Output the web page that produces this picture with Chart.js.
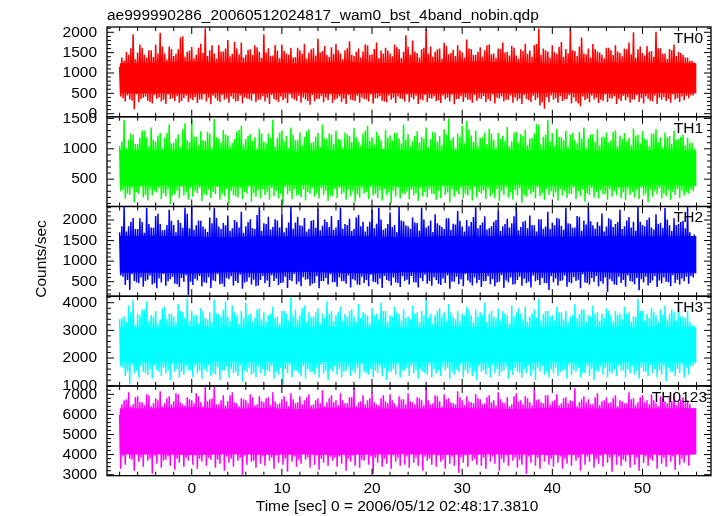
<!DOCTYPE html>
<html><head><meta charset="utf-8">
<script src="https://cdn.jsdelivr.net/npm/chart.js@4.4.0/dist/chart.umd.min.js"></script>
<style>html,body{margin:0;padding:0;background:#fff;}#wrap{width:717px;height:516px;position:relative;}</style>
</head><body><div id="wrap"><canvas id="c" width="717" height="516"></canvas></div>
<script>
const chartTitle = "ae999990286_20060512024817_wam0_bst_4band_nobin.qdp";
const xTitle = "Time [sec] 0 = 2006/05/12 02:48:17.3810";
const yTitle = "Counts/sec";
const bandNames = ["TH0", "TH1", "TH2", "TH3", "TH0123"];
const tStart = -8;      // start time of first bin (s)
const binWidth = 0.5;   // bin width (s); each bin holds two peak/trough readings (A then B)
const coreStep = 4;     // spacing of the dense-band readings (s)

// per-bin upper / lower excursions (counts/sec), first half of each bin
const th0Hi = [1150,1300,1450,1950,1500,1620,1380,1560,1700,1990,1480,1650,1420,1580,1900,1520,
 1640,1450,1720,2100,1560,1480,1690,1530,1810,1470,1600,1750,1450,1580,1680,1520,
 1950,1610,1430,1550,1700,1480,1620,1390,1560,1720,1500,1610,1850,1540,1450,1630,
 1710,1480,1560,1780,1420,1600,1530,1680,1460,1750,1550,1620,1480,1700,1590,1520,
 1640,1800,1490,1580,2080,1650,1520,1600,1740,1460,1570,1680,1510,1820,1590,1450,
 1630,1560,1700,1480,1600,1750,1520,1660,1430,1580,1720,1550,1690,2090,1600,1530,
 1680,1470,1760,1590,2100,1540,1650,1480,1600,1710,1530,1450,1620,1560,1680,1490,
 1600,1750,2000,1580,1490,1660,1540,2010,1610,1480,1590,1700,1520,1450,1380,1300];
const th0Lo = [420,300,350,110,280,390,320,250,370,300,240,360,310,270,380,290,
 330,260,350,300,230,380,290,340,270,360,310,250,370,320,280,350,
 300,240,360,290,330,260,380,310,270,350,220,300,360,280,330,260,
 370,290,240,340,310,270,360,300,250,380,320,280,340,260,370,300,
 280,350,240,330,290,370,310,260,350,300,230,360,290,340,270,320,
 360,280,310,250,370,300,340,270,320,240,360,290,330,200,120,280,
 340,270,310,360,250,300,180,330,280,350,260,320,290,370,240,310,
 330,270,350,290,250,360,300,240,340,310,270,350,290,330,380,450];
// second half of each bin
const th0HiB = [1380,1520,1610,1340,1700,1450,1560,1390,1480,1650,1330,1590,1470,1880,1400,1550,
 1360,1620,1490,1420,1680,1350,1530,1600,1410,1760,1460,1380,1570,1440,1630,1370,
 1500,1420,1690,1360,1540,1450,1380,1620,1480,1350,1580,1430,1500,1660,1390,1470,
 1560,1340,1610,1450,1520,1380,1700,1440,1590,1360,1480,1550,1410,1640,1370,1930,
 1450,1530,1380,1620,1470,1400,1580,1350,1660,1490,1420,1560,1380,1600,1450,1520,
 1400,1680,1460,1370,1590,1500,1430,1620,1350,1540,1470,1400,1710,1450,1560,1380,
 1510,1640,1390,1480,1560,1420,1870,1460,1380,1590,1500,1360,1620,1440,1530,1410,
 1580,1460,1370,1650,1430,1520,1400,1610,1470,1350,1560,1420,1490,1380,1300,1250];
const th0LoB = [380,450,320,480,360,420,290,460,400,340,470,380,430,310,450,370,
 410,350,470,390,440,320,460,380,420,300,450,400,360,470,340,430,
 390,460,330,420,380,470,350,440,400,310,460,370,430,390,480,340,
 420,370,460,330,440,400,350,470,380,430,300,450,390,420,360,470,
 400,440,350,460,380,420,330,450,390,470,360,430,400,340,460,380,
 430,360,470,390,420,340,450,400,370,460,330,440,390,280,410,450,
 380,430,350,460,400,250,420,370,450,390,340,470,380,430,360,440,
 400,350,460,380,430,320,450,390,410,360,470,380,420,440,450,500];

const th1Hi = [1050,1480,1150,1230,1080,1300,1190,1350,1120,1260,1180,1400,1100,1240,1320,1150,
 1470,1200,1290,1130,1250,1490,1170,1310,1220,1100,1280,1380,1160,1240,1190,1330,
 1120,1250,1480,1180,1300,1210,1350,1140,1270,1200,1320,1110,1260,1400,1170,1230,
 1300,1150,1270,1210,1340,1120,1250,1380,1190,1280,1140,1310,1220,1260,1170,1400,
 1240,1130,1290,1200,1350,1160,1270,1210,1320,1500,1190,1250,1380,1460,1220,1300,
 1180,1270,1330,1150,1260,1210,1360,1120,1280,1240,1310,1170,1250,1390,1200,1480,
 1260,1330,1190,1300,1230,1150,1280,1350,1170,1240,1320,1200,1270,1140,1300,1220,
 1260,1180,1340,1230,1290,1150,1250,1320,1190,1270,1210,1300,1160,1230,1180,1100];
const th1Lo = [300,180,240,120,260,200,150,230,280,170,220,90,250,190,230,160,
 210,270,140,230,190,250,160,220,100,240,200,170,260,130,210,180,
 240,160,220,190,80,250,170,230,200,150,260,210,180,240,140,220,
 190,250,160,220,130,200,260,170,230,190,150,240,100,210,180,250,
 170,230,140,220,200,260,160,190,240,120,210,250,180,230,150,200,
 260,170,220,190,140,240,200,160,230,110,210,250,180,220,160,240,
 200,150,230,190,260,170,220,130,240,200,180,250,160,210,230,190,
 150,240,200,170,230,120,210,250,180,220,160,240,190,230,260,300];
const th1HiB = [1120,1010,1250,1080,1180,1300,1040,1150,1220,1000,1260,1090,1170,1030,1420,1110,
 1200,1060,1140,1280,1020,1190,1100,1240,1050,1160,1310,1070,1210,1130,1000,1250,
 1090,1180,1040,1270,1120,1010,1230,1150,1060,1290,1100,1200,1030,1170,1250,1080,
 1160,1020,1240,1110,1190,1050,1300,1130,1070,1220,1000,1180,1140,1260,1090,1150,
 1040,1210,1100,1170,1030,1280,1120,1060,1230,1150,1010,1200,1090,1320,1110,1050,
 1190,1080,1250,1020,1160,1130,1040,1270,1100,1210,1060,1180,1410,1070,1230,1120,
 1050,1200,1140,1030,1260,1090,1170,1010,1240,1120,1060,1190,1100,1280,1040,1160,
 1130,1060,1220,1090,1170,1040,1250,1110,1020,1190,1080,1150,1200,1060,1100,1000];
const th1LoB = [320,260,350,290,380,240,330,300,360,270,340,230,310,370,280,350,
 300,360,250,330,290,370,260,340,310,220,350,290,380,270,320,340,
 280,350,310,260,370,300,340,240,330,290,360,270,350,310,230,340,
 360,280,330,300,250,350,290,370,260,320,340,280,310,360,270,300,
 330,270,360,290,340,250,310,380,280,330,300,350,260,320,370,290,
 310,350,260,340,300,370,280,320,350,240,330,290,360,270,340,300,
 280,340,310,260,360,300,330,270,350,290,320,250,340,300,360,280,
 340,290,320,360,270,330,300,350,260,320,290,340,310,280,330,380];

const th2Hi = [1700,2320,1850,2050,1780,1950,2300,1820,2100,1900,1760,2250,1880,2000,1810,2150,
 2320,1870,1980,1790,2060,2300,1840,1930,2110,1800,1960,2200,1850,2020,1780,2310,
 1920,2080,1830,1990,2150,1810,2320,1940,1870,2050,1790,2000,2280,1860,1950,2100,
 1820,2300,1900,2030,1780,2120,1960,1840,2250,1910,2010,1800,2180,1880,2320,1970,
 1850,2060,1930,2300,1820,1990,2140,1870,1780,2040,1910,2220,1840,2000,1950,2310,
 1880,2090,1800,1960,2240,1850,2030,1920,2320,1830,1980,2110,1870,2020,1790,2200,
 1940,2050,1860,2300,1910,1820,2080,1990,2320,1870,1950,2160,1840,2010,1900,2250,
 1850,2070,1960,2320,1880,2000,1820,2140,1930,2290,1870,2040,1910,1980,2320,1600];
const th2Lo = [650,420,300,520,460,380,550,430,340,480,400,560,450,370,500,180,
 420,530,390,470,350,510,440,380,560,410,470,330,500,430,390,540,
 460,370,520,420,480,350,510,440,390,550,400,470,340,520,430,490,
 380,510,450,360,530,420,470,390,500,440,350,540,410,480,370,520,
 430,490,360,510,450,400,540,420,470,330,500,440,390,530,410,460,
 370,520,440,390,500,350,480,430,540,400,460,360,510,420,470,300,
 490,410,530,380,460,520,340,480,430,500,390,450,250,510,420,470,
 380,520,440,290,480,410,530,370,460,500,390,470,430,510,450,600];
const th2HiB = [1850,1720,1960,1780,2040,1690,1900,1810,2150,1750,1880,1980,1700,1930,2300,1800,
 1760,1990,1840,1710,1920,2050,1780,1870,1740,2000,1820,1690,1950,1800,2120,1730,
 1900,1770,2020,1820,1700,1940,1790,2080,1860,1720,1980,1810,1750,2010,1830,1760,
 2000,1790,1880,1730,2060,1850,1720,1960,1800,2300,1760,1900,1830,1700,1990,1870,
 1790,1940,1740,2010,1860,1710,1920,1830,2040,1760,1890,1980,1720,1850,2070,1800,
 1940,1770,1850,2000,1730,1900,1820,2090,1750,1960,1800,1880,1720,2020,1840,1780,
 1870,2030,1760,1920,1810,2100,1740,1890,1970,1790,1860,1720,2040,1830,1950,1780,
 1990,1820,1740,1960,1850,2060,1770,1900,1810,2010,1730,1880,1950,1800,1700,1650];
const th2LoB = [620,540,680,480,600,520,650,460,580,690,510,620,440,590,660,500,
 570,640,490,610,530,680,450,590,630,520,670,480,600,550,410,640,
 530,660,580,470,620,540,690,500,610,560,450,640,520,590,680,490,
 600,510,650,560,430,620,540,670,490,580,640,520,600,470,630,550,
 640,480,590,670,520,610,450,580,650,500,620,560,690,480,600,540,
 510,630,560,480,660,530,600,440,620,570,500,650,540,590,460,630,
 580,520,650,490,610,550,680,470,590,640,510,600,560,430,620,540,
 650,500,590,560,620,470,640,530,600,490,660,550,580,620,640,700];

const th3Hi = [3400,3500,3900,4100,3600,3750,4050,3550,3700,3400,3850,3600,3500,3950,3650,4150,
 3700,3550,3800,3450,3650,4100,3600,3750,3500,3900,3550,3700,4000,3600,3450,3800,
 3650,3550,3850,3500,3700,3600,4200,3750,3550,3900,3650,3500,3800,3600,4050,3700,
 3550,3850,3600,3700,3500,3950,3650,3550,3800,3600,4000,3700,3550,3850,3600,3750,
 3500,3900,3650,3700,4100,3600,3550,3800,3650,3950,3500,3700,3600,3850,3550,3750,
 3650,4000,3600,3500,3800,3700,3550,3900,3650,3600,3850,3500,3750,4150,3600,3700,
 3550,3850,3650,3700,3500,3950,3600,3750,3550,3900,3650,3600,3800,3550,3700,3600,
 3850,3650,3500,4150,3700,3600,3800,3550,3750,3900,3600,3650,3850,3500,3700,3200];
const th3Lo = [1700,1350,1050,1450,1300,1500,1400,1250,1550,1350,1450,1200,1500,1300,1400,1550,
 1300,1450,1250,1500,1350,1400,1200,1550,1300,1450,1350,1150,1500,1400,1300,1450,
 1350,1500,1250,1400,1050,1450,1300,1550,1350,1250,1500,1400,1300,1450,1200,1500,
 1400,1300,1550,1350,1450,1250,1500,1400,1300,1450,1350,1200,1500,1400,1300,1550,
 1350,1450,1250,1500,1400,1300,1450,1350,1550,1250,1400,1500,1300,1450,1350,1200,
 1500,1400,1300,1450,1350,1550,1250,1400,1500,1300,1450,1350,1200,1500,1400,1300,
 1450,1350,1550,1250,1400,1500,1300,1450,1350,1200,1500,1400,1300,1450,1350,1550,
 1300,1450,1400,1250,1500,1350,1450,1300,1400,1150,1500,1350,1450,1300,1400,1700];
const th3HiB = [3450,3300,3650,3200,3550,3750,3350,3500,3250,3800,3400,3600,3300,3700,3450,3350,
 3550,3250,3700,3400,3300,3600,3500,4050,3350,3650,3250,3450,3550,3300,3750,3400,
 3300,3600,3450,3250,3700,3350,3550,3400,3800,3300,3500,3650,3250,3450,3600,3350,
 3650,3350,3500,3750,3300,3450,3600,3250,3550,3400,3700,3300,3500,3650,3350,3450,
 3400,3600,3300,3550,3450,3250,3700,3500,3350,3650,3400,3300,3550,3750,3300,3500,
 3550,3300,3700,3450,3350,3600,3250,3500,3800,3400,3300,3600,3450,3350,3700,3500,
 3350,3650,3400,3300,3550,3450,3750,3300,3500,3600,3350,3450,3700,3300,3550,3400,
 3600,3300,3500,3700,3350,3450,3650,3300,3550,3400,3750,3350,3500,3450,3300,3150];
const th3LoB = [1650,1500,1750,1550,1700,1450,1600,1750,1500,1650,1550,1800,1600,1500,1700,1550,
 1700,1550,1600,1750,1450,1650,1550,1700,1600,1500,1750,1550,1650,1450,1700,1600,
 1550,1700,1500,1650,1600,1750,1550,1450,1700,1600,1500,1650,1750,1550,1600,1700,
 1600,1500,1700,1550,1650,1750,1450,1600,1550,1700,1650,1500,1600,1750,1550,1650,
 1700,1550,1600,1450,1750,1600,1550,1700,1650,1500,1600,1750,1550,1650,1500,1700,
 1550,1650,1750,1600,1500,1700,1550,1650,1450,1600,1750,1550,1650,1700,1500,1600,
 1650,1500,1600,1750,1550,1650,1450,1700,1600,1550,1700,1650,1500,1600,1750,1550,
 1600,1700,1550,1650,1500,1750,1600,1550,1700,1650,1500,1600,1750,1650,1700,1800];

const th0123Hi = [6000,6700,7100,6500,6900,6600,7000,6400,6800,7150,6550,6900,6650,7000,6500,6850,
 6700,7050,6600,7400,6750,7380,6500,6950,6650,7100,6550,6800,6700,7000,6450,6900,
 6600,6850,7100,6500,6750,6650,7050,6550,6900,6700,7000,6500,6800,7200,6600,6950,
 6700,7050,6550,6850,7300,6600,6950,6700,7100,6500,6800,6650,7000,6550,6900,6750,
 7050,6600,6850,6700,7350,6500,6950,6650,7000,6800,6550,7150,6700,6900,6600,7000,
 6750,6550,6950,6700,7100,6600,6850,6500,7050,6700,6900,6600,7250,6750,6550,6950,
 6650,7000,6550,6850,6700,7300,6600,6900,6750,6500,7050,6650,6850,6600,6950,6700,
 6550,7100,6800,6600,6950,6700,7000,6550,6900,6650,6800,7050,6600,6850,6700,6300];
const th0123Lo = [3300,3500,3800,3200,3650,3400,3700,3050,3550,3350,3750,3450,3250,3600,3400,3700,
 3500,3300,3650,3450,3750,3350,3550,3200,3600,3400,3700,3000,3500,3650,3350,3550,
 3450,3700,3300,3600,3500,3150,3650,3400,3550,3750,3350,3500,3250,3600,3450,3700,
 3400,3550,3200,3650,3450,3350,3700,3500,3050,3600,3400,3550,3300,3650,3450,3500,
 3350,3600,3450,3200,3700,3500,3400,3650,3300,3550,3450,3100,3600,3400,3700,3500,
 3450,3300,3650,3550,3200,3600,3450,3700,3350,3500,3050,3600,3450,3300,3650,3500,
 3400,3600,3300,3550,3450,3700,3200,3500,3650,3350,3550,3400,3600,3150,3500,3450,
 3650,3350,3500,3200,3600,3450,3700,3300,3550,3400,3650,3250,3500,3600,3450,4000];
const th0123HiB = [6500,6750,6400,6850,6600,6450,6950,6550,6700,6400,6800,6500,7050,6600,6450,6750,
 6550,6900,6400,6650,6800,6500,6700,6450,6950,6600,6400,6750,6550,6850,6500,6650,
 6800,6450,6650,6550,6900,6400,6750,6600,6500,6850,6450,6700,6550,6400,6800,6600,
 6450,6700,6550,6850,6400,6650,6500,6800,6600,6450,6950,6550,6700,6400,6750,6500,
 6650,6500,6800,6450,6700,6550,6900,6400,6750,6600,6500,6850,6450,6650,6550,6800,
 6500,6850,6600,6450,6750,6550,6400,6900,6650,6500,6800,6450,6700,6600,6950,6500,
 6700,6450,6800,6550,6650,6400,6750,6600,6500,6850,6450,6700,6550,6800,6400,6650,
 6550,6750,6450,6850,6600,6500,6700,6400,6800,6550,6650,6450,6750,6600,6500,6300];
const th0123LoB = [3900,4100,3750,4000,3850,4150,3800,3950,4050,3700,3900,4100,3800,4000,3850,4150,
 3950,3800,4100,3850,4000,3750,4050,3900,3800,4150,3850,3950,4100,3700,4000,3900,
 4050,3850,3950,4100,3800,4000,3900,3750,4150,3850,4000,3950,3800,4100,3900,3850,
 3900,4100,3800,3950,4050,3750,4000,3900,3850,4100,3800,4000,3950,3850,4150,3900,
 4000,3850,4100,3900,3800,4050,3950,3750,4000,3900,4150,3850,3950,4050,3800,4000,
 3850,4050,3900,4100,3800,3950,4000,3850,3750,4100,3900,4000,3850,4050,3950,3800,
 4100,3900,3800,4000,3950,3850,4150,3900,4050,3800,3950,4100,3850,4000,3900,3750,
 3950,4000,3850,4100,3900,3800,4050,3950,3850,4000,3900,4150,3800,3950,4000,4100];

// edges of the dense (solid) part of each band, read every 4 s from -8 to 56
const th0CoreTop = [1240,1250,1280,1240,1260,1230,1270,1250,1240,1260,1280,1250,1230,1240,1260,1250,1240];
const th0CoreBot = [500,500,490,510,500,520,490,510,500,490,510,500,520,500,490,510,500];
const th1CoreTop = [970,980,960,990,970,950,980,1000,970,960,990,970,980,960,970,980,970];
const th1CoreBot = [390,390,400,380,400,410,390,400,380,400,390,410,390,400,380,400,390];
const th2CoreTop = [1610,1620,1600,1580,1610,1590,1620,1600,1580,1610,1600,1620,1590,1600,1610,1600,1610];
const th2CoreBot = [720,720,700,730,710,740,720,700,730,720,710,730,720,740,710,720,720];
const th3CoreTop = [3100,3100,3150,3070,3110,3090,3130,3100,3080,3120,3100,3070,3110,3090,3120,3100,3100];
const th3CoreBot = [1850,1850,1830,1870,1850,1840,1860,1830,1850,1870,1840,1850,1860,1830,1850,1840,1850];
const th0123CoreTop = [6300,6300,6350,6280,6320,6260,6340,6300,6280,6320,6300,6270,6330,6290,6310,6300,6300];
const th0123CoreBot = [4000,4000,3980,4020,3990,4010,3980,4000,4020,3990,4010,4000,3980,4020,4000,3990,4000];

// axis settings per panel (top to bottom)
const yMin = [-75, 50, 147, 990, 2950];
const yMax = [2130, 1528, 2329, 4234, 7415];
const yTickLabels = [[0, 500, 1000, 1500, 2000], [500, 1000, 1500], [500, 1000, 1500, 2000],
                     [1000, 2000, 3000, 4000], [3000, 4000, 5000, 6000, 7000]];
const yMajor = [500, 500, 500, 1000, 1000];
const yMinor = [100, 100, 100, 200, 200];
const xMin = -9.4, xMax = 57.6;
const xTickLabels = [0, 10, 20, 30, 40, 50];
const xMajor = 10, xMinor = 2;

const hisA = [th0Hi, th1Hi, th2Hi, th3Hi, th0123Hi];
const losA = [th0Lo, th1Lo, th2Lo, th3Lo, th0123Lo];
const hisB = [th0HiB, th1HiB, th2HiB, th3HiB, th0123HiB];
const losB = [th0LoB, th1LoB, th2LoB, th3LoB, th0123LoB];
const coreTops = [th0CoreTop, th1CoreTop, th2CoreTop, th3CoreTop, th0123CoreTop];
const coreBots = [th0CoreBot, th1CoreBot, th2CoreBot, th3CoreBot, th0123CoreBot];
const colors = ["#ff0000", "#00ff00", "#0000ff", "#00ffff", "#ff00ff"];

const FAMILY = "'Liberation Sans', Arial, Helvetica, sans-serif";
const FONT = {family: FAMILY, size: 15.5};
const FONTSTR = "15.5px " + FAMILY;

function series(hA, lA, hB, lB) {
  const pts = [];
  const q = binWidth / 4;
  for (let i = 0; i < hA.length; i++) {
    const t = tStart + i * binWidth;
    pts.push({x: t, y: hA[i]});
    pts.push({x: t + q, y: lA[i]});
    pts.push({x: t + 2 * q, y: hB[i]});
    pts.push({x: t + 3 * q, y: lB[i]});
  }
  return pts;
}
function coreSeries(arr) {
  return arr.map((v, i) => ({x: tStart + i * coreStep, y: v}));
}

const datasets = [];
bandNames.forEach((n, k) => {
  datasets.push({
    label: n + ' core top', data: coreSeries(coreTops[k]), yAxisID: 'y' + k,
    borderWidth: 0, borderColor: 'rgba(0,0,0,0)', backgroundColor: colors[k],
    pointRadius: 0, tension: 0, fill: '+1'
  });
  datasets.push({
    label: n + ' core bottom', data: coreSeries(coreBots[k]), yAxisID: 'y' + k,
    borderWidth: 0, borderColor: 'rgba(0,0,0,0)', pointRadius: 0, tension: 0, fill: false
  });
  datasets.push({
    label: n, data: series(hisA[k], losA[k], hisB[k], losB[k]), yAxisID: 'y' + k,
    borderColor: colors[k], borderWidth: 1.5, pointRadius: 0, tension: 0, fill: false
  });
});

const scales = {
  x: {
    type: 'linear', position: 'bottom', min: xMin, max: xMax,
    grid: {display: false, drawTicks: false}, border: {display: false},
    ticks: {font: FONT, color: '#000', padding: 4, maxRotation: 0, autoSkip: false, callback: v => String(v)},
    afterBuildTicks: s => { s.ticks = xTickLabels.map(v => ({value: v})); },
    afterFit: s => { s.height = 40.3; }
  }
};
// define bottom panel first: stacked left axes are placed with last-defined on top
for (let k = 4; k >= 0; k--) {
  scales['y' + k] = {
    type: 'linear', position: 'left', stack: 'panels', stackWeight: 1, offset: false,
    min: yMin[k], max: yMax[k],
    grid: {display: false, drawTicks: false}, border: {display: false},
    ticks: {font: FONT, color: '#000', padding: 10, autoSkip: false, callback: v => String(v)},
    afterBuildTicks: s => { s.ticks = yTickLabels[k].map(v => ({value: v})); },
    afterFit: s => { s.width = 107; }
  };
}

const panelClip = {
  id: 'panelClip',
  beforeDatasetDraw(chart, args) {
    const ds = chart.data.datasets[args.index];
    const ys = chart.scales[ds.yAxisID];
    const ca = chart.chartArea;
    const ctx = chart.ctx;
    ctx.save();
    ctx.beginPath();
    ctx.rect(ca.left, ys.top, ca.right - ca.left, ys.bottom - ys.top);
    ctx.clip();
  },
  afterDatasetDraw(chart) { chart.ctx.restore(); }
};

const frames = {
  id: 'frames',
  afterDraw(chart) {
    const ctx = chart.ctx, ca = chart.chartArea, xs = chart.scales.x;
    ctx.save();
    ctx.strokeStyle = '#000';
    ctx.fillStyle = '#000';
    for (let k = 0; k < 5; k++) {
      const ys = chart.scales['y' + k];
      const top = ys.top, bot = ys.bottom, L = ca.left, R = ca.right;
      ctx.lineWidth = 1;
      ctx.beginPath();
      const start = Math.ceil(yMin[k] / yMinor[k]) * yMinor[k];
      for (let v = start; v <= yMax[k]; v += yMinor[k]) {
        const p = ys.getPixelForValue(v);
        const major = Math.abs(v / yMajor[k] - Math.round(v / yMajor[k])) < 1e-9;
        const len = major ? 7 : 4;
        ctx.moveTo(L, p); ctx.lineTo(L + len, p);
        ctx.moveTo(R, p); ctx.lineTo(R - len, p);
      }
      const xs0 = Math.ceil(xMin / xMinor) * xMinor;
      for (let v = xs0; v <= xMax; v += xMinor) {
        const p = xs.getPixelForValue(v);
        const major = Math.abs(v / xMajor - Math.round(v / xMajor)) < 1e-9;
        const len = major ? 7 : 4;
        ctx.moveTo(p, top); ctx.lineTo(p, top + len);
        ctx.moveTo(p, bot); ctx.lineTo(p, bot - len);
      }
      ctx.stroke();
      ctx.lineWidth = 1.3;
      ctx.strokeRect(L, top, R - L, bot - top);
      ctx.font = FONTSTR;
      ctx.textAlign = 'right';
      ctx.textBaseline = 'alphabetic';
      ctx.fillText(bandNames[k], k === 4 ? R - 4 : R - 8, top + 16);
    }
    ctx.font = FONTSTR;
    ctx.textAlign = 'left';
    ctx.textBaseline = 'alphabetic';
    ctx.fillText(chartTitle, ca.left, 20);
    ctx.textAlign = 'center';
    ctx.textBaseline = 'middle';
    ctx.fillText(xTitle, 397, 507);
    ctx.translate(42, 259);
    ctx.rotate(-Math.PI / 2);
    ctx.fillText(yTitle, 0, 0);
    ctx.restore();
  }
};

new Chart(document.getElementById('c'), {
  type: 'line',
  data: {datasets},
  options: {
    responsive: false, animation: false, devicePixelRatio: 1,
    parsing: false, normalized: true,
    layout: {padding: {left: 0, right: 6, top: 27, bottom: 0}},
    plugins: {legend: {display: false}, tooltip: {enabled: false}, title: {display: false}},
    scales
  },
  plugins: [panelClip, frames]
});
</script></body></html>
